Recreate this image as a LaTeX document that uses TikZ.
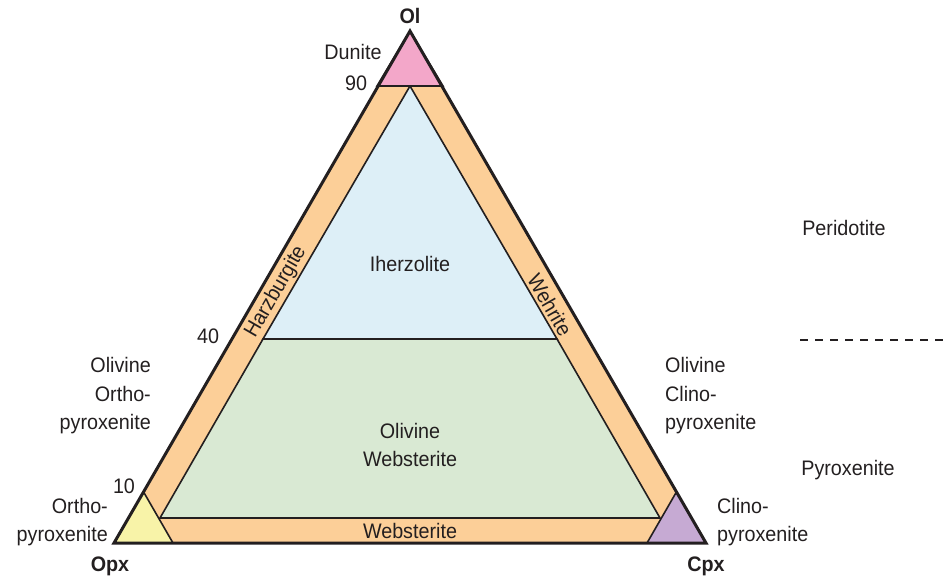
\documentclass[tikz,border=0pt]{standalone}
\usepackage{fontspec}
\setmainfont{Liberation Sans}[FakeStretch=0.94]
\usepackage{tikz}

\definecolor{duniteC}{RGB}{243,167,201}
\definecolor{bandC}{RGB}{252,207,152}
\definecolor{lherzC}{RGB}{221,239,247}
\definecolor{webstC}{RGB}{217,233,211}
\definecolor{opxC}{RGB}{248,243,168}
\definecolor{cpxC}{RGB}{198,170,211}
\definecolor{lineC}{RGB}{35,31,32}

\tikzset{
  lbl/.style={font=\fontsize{21}{28.5}\selectfont, inner sep=0pt, text=lineC},
  apex/.style={lbl, font=\fontsize{21}{28.5}\selectfont\bfseries},
  field/.style={draw=lineC, line width=1.6pt, line join=miter},
}

\begin{document}
\begin{tikzpicture}[x=1pt,y=-1pt]
    \useasboundingbox (0,0) rectangle (944,584);

    % corners of the diagram
    \coordinate (Ol) at (410,31);
    \coordinate (Opx) at (114,543);
    \coordinate (Cpx) at (706,543);
    % 90 and 10 lines
    \coordinate (du1) at (377,86);
    \coordinate (du2) at (443,86);
    \coordinate (ox1) at (143.6,492);
    \coordinate (ox2) at (173,543);
    \coordinate (cx1) at (676.4,492);
    \coordinate (cx2) at (647,543);
    % inner triangle
    \coordinate (in1) at (410,86);
    \coordinate (in2) at (160,518);
    \coordinate (in3) at (660,518);
    \coordinate (fo1) at (263,339);
    \coordinate (fo2) at (557,339);

    \fill[bandC] (Ol) -- (Opx) -- (Cpx) -- cycle;
    \filldraw[field, fill=lherzC] (in1) -- (fo1) -- (fo2) -- cycle;
    \filldraw[field, fill=webstC] (fo1) -- (in2) -- (in3) -- (fo2) -- cycle;
    \filldraw[field, fill=duniteC] (Ol) -- (du1) -- (du2) -- cycle;
    \filldraw[field, fill=opxC] (Opx) -- (ox1) -- (ox2) -- cycle;
    \filldraw[field, fill=cpxC] (Cpx) -- (cx1) -- (cx2) -- cycle;
    \draw[lineC, line width=3pt, line join=miter] (Ol) -- (Opx) -- (Cpx) -- cycle;

    % corner names
    \node[apex] (olL) at (410,16) {Ol};
    \node[apex] (opxL) at (110,566) {Opx};
    \node[apex] (cpxL) at (706,566) {Cpx};

    % ticks
    \node[lbl] (t90) at (356,83) {90};
    \node[lbl] (t40) at (208,336) {40};
    \node[lbl] (t10) at (124,486) {10};

    % rock names
    \node[lbl] (dun) at (353,52) {Dunite};
    \node[lbl] (lhz) at (410,264) {Iherzolite};
    \node[lbl, align=center] (owb) at (410,445) {Olivine\\Websterite};
    \node[lbl] (wbs) at (410,531) {Websterite};
    \node[lbl, rotate=60] (hzb) at (276,292) {Harzburgite};
    \node[lbl, rotate=-60] (whr) at (550,305) {Wehrite};
    \node[lbl, align=right, anchor=east] (oopx) at (151,396) {Olivine\\Ortho-\\pyroxenite};
    \node[lbl, align=right, anchor=east] (opxn) at (108,522) {Ortho-\\pyroxenite};
    \node[lbl, align=left, anchor=west] (ocpx) at (665,396) {Olivine\\Clino-\\pyroxenite};
    \node[lbl, align=left, anchor=west] (cpxn) at (717,522) {Clino-\\pyroxenite};

    % groups on the right
    \node[lbl] (per) at (844,228) {Peridotite};
    \node[lbl] (pyx) at (848,470) {Pyroxenite};
    \coordinate (sep1) at (800,340);
    \coordinate (sep2) at (944,340);
    \draw[lineC, line width=1.2pt, dash pattern=on 8pt off 7pt] (sep1) -- (sep2);
\end{tikzpicture}
\end{document}
